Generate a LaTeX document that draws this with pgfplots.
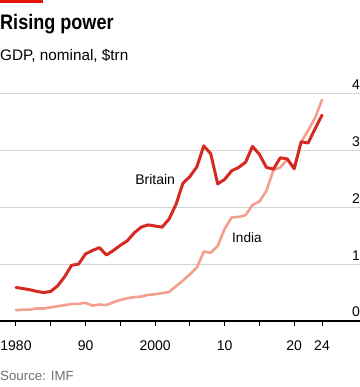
\documentclass[border=0pt]{standalone}
\usepackage{pgfplots}
\pgfplotsset{compat=1.18}
\usepackage{fontspec}
\usepackage{graphicx}
\setmainfont{Liberation Sans}
\definecolor{econred}{HTML}{E3120B}
\definecolor{britred}{HTML}{D42A22}
\definecolor{indpink}{HTML}{F2A08D}
\definecolor{gridgray}{HTML}{D3D3D3}
\definecolor{srcgray}{HTML}{707070}
\begin{document}
\begin{tikzpicture}[x=1bp,y=1bp]
\fill[econred] (0,387) rectangle (43,383.6);
\node[anchor=base west, inner sep=0] at (0,357.7) {\scalebox{0.86}[1]{\fontsize{21bp}{24bp}\selectfont\bfseries Rising power}};
\node[anchor=base west, inner sep=0] at (0,327) {\fontsize{15.3bp}{18bp}\selectfont GDP, nominal, \$trn};
\node[anchor=base west, inner sep=0, text=srcgray] at (0,6.5) {\fontsize{13.3bp}{16bp}\selectfont Source: IMF};
\begin{axis}[
  at={(0bp,66bp)}, anchor=south west,
  scale only axis, width=360bp, height=227.5bp,
  xmin=1977.70, xmax=2029.46, ymin=0, ymax=4,
  axis x line*=bottom, axis y line*=left,
  y axis line style={draw=none},
  x axis line style={black, line width=1.1bp, -},
  xtick={1980,1985,1990,1995,2000,2005,2010,2015,2020,2024},
  xticklabels={1980,,90,,2000,,10,,20,24},
  xtick align=outside,
  major tick length=5bp,
  xtick style={black, line width=1bp},
  ytick={1,2,3,4},
  yticklabels={},
  ytick style={draw=none},
  ymajorgrids,
  grid style={gridgray, line width=0.9bp},
  /pgf/number format/assume math mode=true,
  ticklabel style={font=\fontsize{14bp}{16bp}\selectfont},
  xticklabel style={anchor=base, yshift=-24bp},
  clip=false,
]
\addplot[indpink, line width=2.6bp, line join=round, line cap=round] coordinates {
(1980,0.19)(1981,0.20)(1982,0.20)(1983,0.22)(1984,0.22)(1985,0.24)(1986,0.26)(1987,0.28)(1988,0.30)(1989,0.30)
(1990,0.32)(1991,0.27)(1992,0.29)(1993,0.28)(1994,0.33)(1995,0.37)(1996,0.40)(1997,0.42)(1998,0.43)(1999,0.46)
(2000,0.47)(2001,0.49)(2002,0.51)(2003,0.61)(2004,0.71)(2005,0.82)(2006,0.94)(2007,1.22)(2008,1.20)(2009,1.32)
(2010,1.62)(2011,1.82)(2012,1.83)(2013,1.86)(2014,2.04)(2015,2.10)(2016,2.29)(2017,2.65)(2018,2.70)(2019,2.84)
(2020,2.67)(2021,3.15)(2022,3.35)(2023,3.57)(2024,3.89)
};
\addplot[britred, line width=3bp, line join=round, line cap=round] coordinates {
(1980,0.59)(1981,0.57)(1982,0.55)(1983,0.52)(1984,0.50)(1985,0.52)(1986,0.62)(1987,0.78)(1988,0.98)(1989,1.00)
(1990,1.18)(1991,1.24)(1992,1.29)(1993,1.16)(1994,1.24)(1995,1.33)(1996,1.41)(1997,1.55)(1998,1.65)(1999,1.69)
(2000,1.67)(2001,1.65)(2002,1.79)(2003,2.05)(2004,2.42)(2005,2.54)(2006,2.71)(2007,3.08)(2008,2.94)(2009,2.41)
(2010,2.49)(2011,2.64)(2012,2.70)(2013,2.79)(2014,3.07)(2015,2.93)(2016,2.70)(2017,2.67)(2018,2.87)(2019,2.85)
(2020,2.68)(2021,3.15)(2022,3.13)(2023,3.38)(2024,3.62)
};
\foreach \v in {0,1,2,3,4} {
  \edef\temp{\noexpand\node[anchor=base east, inner sep=0, font=\noexpand\fontsize{14bp}{16bp}\noexpand\selectfont] at (rel axis cs:1,\v/4) [yshift=4bp] {\v};}
  \temp
}
\node[font=\fontsize{14bp}{16bp}\selectfont] at (axis cs:2000,2.48) {Britain};
\node[font=\fontsize{13.6bp}{16bp}\selectfont] at (axis cs:2013.2,1.46) {India};
\end{axis}
\pgfresetboundingbox
\useasboundingbox (0,0) rectangle (360,387);
\end{tikzpicture}
\end{document}
